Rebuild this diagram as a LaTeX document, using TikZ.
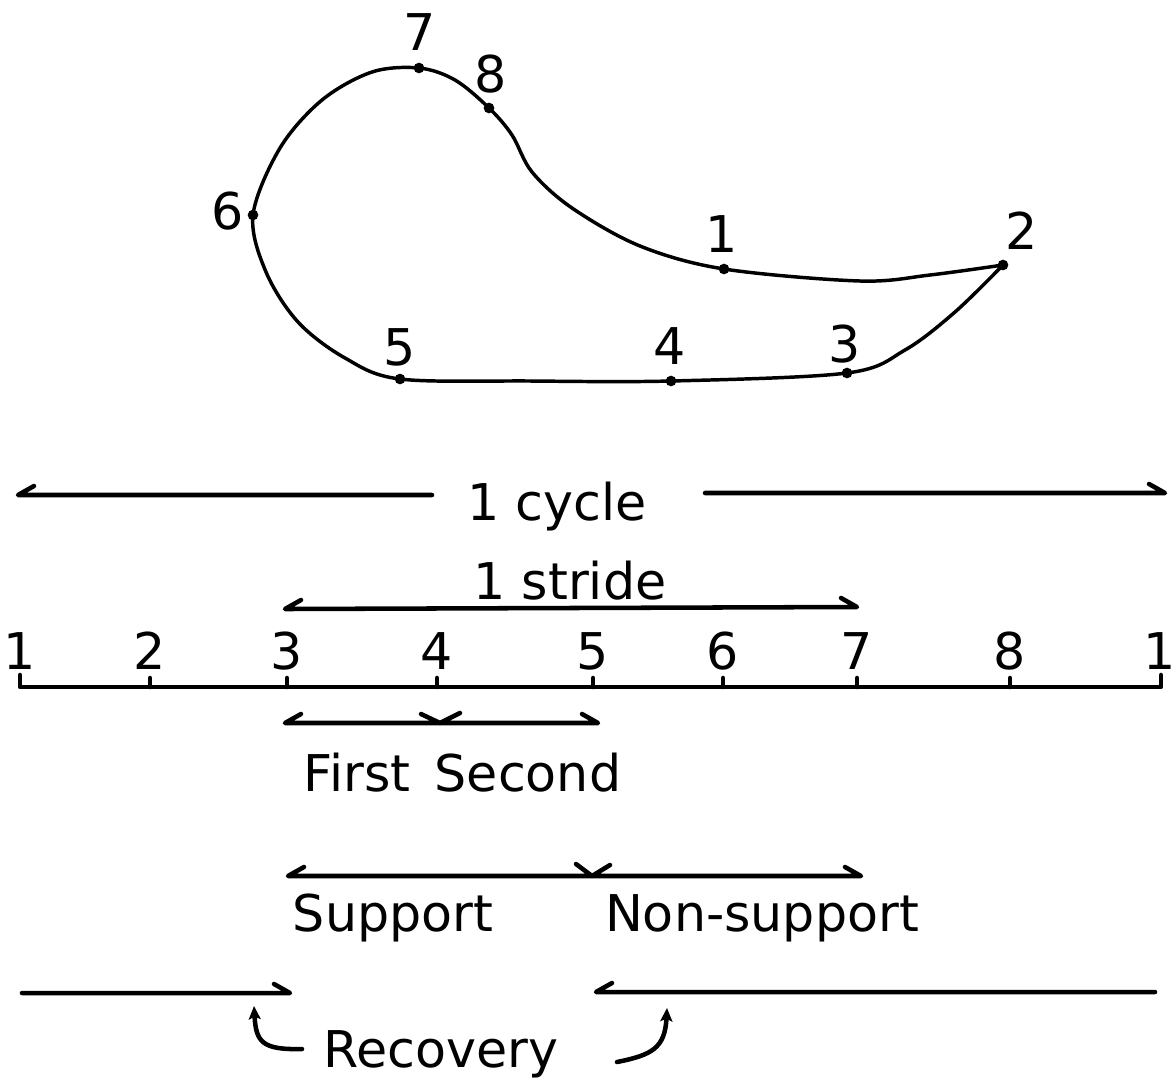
\documentclass[tikz,border=0pt]{standalone}
\usepackage{fontspec}
\setmainfont{DejaVu Sans}
\usetikzlibrary{arrows.meta}
\begin{document}
\begin{tikzpicture}[x=0.75pt,y=-0.75pt,
  ink/.style={line width=3.4pt,line cap=round,line join=round},
  curve/.style={line width=2.6pt,line cap=round,line join=round},
  hk/.tip={Stealth[length=10pt,width=9pt,inset=2pt]},
  lab/.style={font=\fontsize{38}{40}\selectfont,inner sep=0pt,anchor=base},
  pt/.style={circle,fill=black,inner sep=0pt,minimum size=8pt}]
\useasboundingbox (0,0) rectangle (1174,1079);
% loop
\node[pt] (p1) at (724,269) {};
\node[pt] (p2) at (1003,265) {};
\node[pt] (p3) at (847,373) {};
\node[pt] (p4) at (671,381) {};
\node[pt] (p5) at (400,379) {};
\node[pt] (p6) at (253,215) {};
\node[pt] (p7) at (419,68) {};
\node[pt] (p8) at (489,108) {};
\draw[curve] plot[smooth,tension=0.55] coordinates {
  (1003,265) (930,275) (860,281) (724,269) (640,246) (572,208) (532,172)
  (512,135) (489,108) (455,80) (419,68) (372,72) (322,100) (280,148)
  (253,215) (266,272) (298,322) (345,358) (400,379) (530,381) (671,381)
  (847,373) (905,350) (955,312) (1003,265)};
\node[lab] (l7) at (420,50) {7};
\node[lab] (l8) at (491,92) {8};
\node[lab] (l6) at (228,229) {6};
\node[lab] (l1) at (722,252) {1};
\node[lab] (l2) at (1022,249) {2};
\node[lab] (l3) at (845,362) {3};
\node[lab] (l4) at (670,364) {4};
\node[lab] (l5) at (400,365) {5};
% cycle
\node[lab] (cyc) at (557,520) {1 cycle};
\coordinate (c1) at (18,495);
\coordinate (c2) at (432,495);
\coordinate (c3) at (705,493);
\coordinate (c4) at (1165,493);
\draw[ink] ([shift={(16,-9)}]c1) -- (c1) -- (c2);
\draw[ink] (c3) -- (c4) -- ([shift={(-16,-9)}]c4);
% stride
\node[lab] (str) at (570,599) {1 stride};
\coordinate (s1) at (285,609);
\coordinate (s2) at (857,607);
\draw[ink] ([shift={(16,-9)}]s1) -- (s1) -- (s2) -- ([shift={(-16,-9)}]s2);
% axis
\foreach \x/\t [count=\i] in {20/1,150/2,287/3,437/4,593/5,723/6,857/7,1010/8,1160/1}{
  \node[lab] (n\i) at (\x,669) {\t};
}
\draw[ink] (20,675) -- (20,687) -- (1161,687) -- (1161,675);
\foreach \x in {150,287,437,593,723,857,1010}{
  \draw[ink] (\x,687) -- (\x,678);
}
% first / second
\coordinate (f1) at (285,723);
\coordinate (f2) at (440,723);
\coordinate (f3) at (598,723);
\draw[ink] ([shift={(16,-9)}]f1) -- (f1) -- (f2) -- ([shift={(-19,-9)}]f2);
\draw[ink] ([shift={(20,-10)}]f2) -- (f2) -- (f3) -- ([shift={(-16,-9)}]f3);
\node[lab] (fst) at (357,791) {First};
\node[lab] (snd) at (528,791) {Second};
% support / non-support
\coordinate (u1) at (288,876);
\coordinate (u2) at (592,876);
\coordinate (u3) at (861,876);
\draw[ink] ([shift={(16,-9)}]u1) -- (u1) -- (u2) -- ([shift={(-16,-12)}]u2);
\draw[ink] ([shift={(18,-11)}]u2) -- (u2) -- (u3) -- ([shift={(-16,-9)}]u3);
\node[lab] (sup) at (393,931) {Support};
\node[lab] (nsup) at (762,931) {Non-support};
% recovery
\coordinate (r1) at (22,993);
\coordinate (r2) at (290,993);
\coordinate (r3) at (596,992);
\coordinate (r4) at (1155,992);
\draw[ink] (r1) -- (r2) -- ([shift={(-16,-9)}]r2);
\draw[ink] ([shift={(16,-9)}]r3) -- (r3) -- (r4);
\node[lab] (rec) at (441,1067) {Recovery};
\coordinate (h1) at (302,1049);
\coordinate (h2) at (254,1006);
\coordinate (h3) at (617,1062);
\coordinate (h4) at (667,1008);
\draw[ink,-hk] (h1) .. controls (262,1050) and (256,1042) .. (h2);
\draw[ink,-hk] (h3) .. controls (652,1055) and (665,1048) .. (h4);
\end{tikzpicture}
\end{document}
